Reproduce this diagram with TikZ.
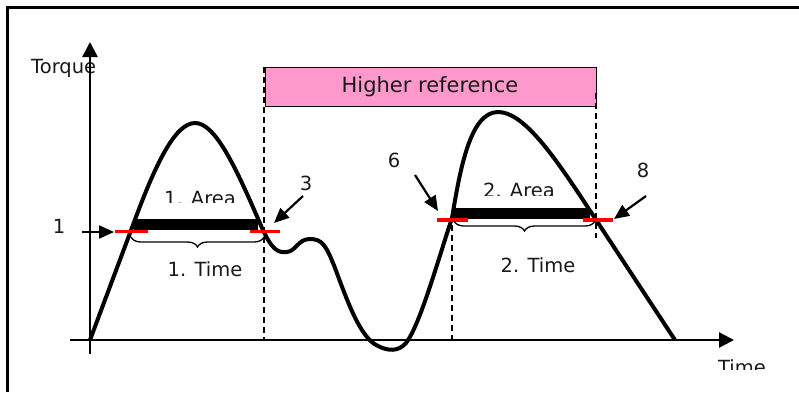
\documentclass[tikz,border=0pt]{standalone}
\usepackage{fontspec}
\setmainfont{DejaVu Sans}
\usetikzlibrary{arrows.meta,decorations.pathreplacing}
\definecolor{boxpink}{HTML}{FF99CC}
\tikzset{
  lbl/.style={inner sep=0pt, font=\fontsize{19.5}{21}\selectfont, text=black!90},
  axisline/.style={line width=2.4pt, -{Triangle[length=15pt,width=15pt]}},
  pointer/.style={line width=2.2pt, -{Triangle[length=15pt,width=13pt]}},
  guide/.style={line width=1.4pt, dash pattern=on 6pt off 4pt},
  redmark/.style={line width=3.5pt, red},
  bar/.style={fill=black, draw=none},
  curve/.style={line width=4pt, line join=round},
  timebrace/.style={line width=1.3pt, decorate, decoration={brace, mirror, amplitude=10pt}},
}
\begin{document}
\begin{tikzpicture}[x=1pt,y=-1pt]
\useasboundingbox (0,0) rectangle (799,392);
% frame
\draw[line width=3pt] (7.5,392) -- (7.5,7.5) -- (799,7.5);
% higher reference box
\node[draw=black, line width=1.3pt, fill=boxpink, minimum width=331pt, minimum height=39pt, inner sep=0pt, anchor=north west] (href) at (264.5,66.5) {};
\node[lbl, font=\fontsize{21}{22}\selectfont, anchor=base] (hreftxt) at (430,92) {Higher reference};
% guide lines
\coordinate (g1t) at (264,67); \coordinate (g1b) at (264,340);
\coordinate (g2t) at (596,93); \coordinate (g2b) at (596,238);
\coordinate (g3t) at (452,215); \coordinate (g3b) at (452,340);
\draw[guide] (g1t) -- (g1b);
\draw[guide] (g2t) -- (g2b);
\draw[guide] (g3t) -- (g3b);
% axes
\node[lbl, anchor=base west] (torque) at (31,73) {Torque};
\coordinate (yb) at (90,354); \coordinate (yt) at (90,42);
\coordinate (xl) at (70,340); \coordinate (xr) at (734,340);
\draw[axisline] (yb) -- (yt);
\draw[axisline] (xl) -- (xr);
\begin{scope}
\clip (700,340) rectangle (799,369.5);
\node[lbl, anchor=base] (timelbl) at (742,374) {Time};
\end{scope}
% bars
\fill[bar] (134,219) rectangle (258,229.5);
\fill[bar] (453,208) rectangle (590,218.5);
% curve
\draw[curve] (90,340) -- (133,225)
  .. controls (155,165) and (175,123) .. (195,123)
  .. controls (215,123) and (235,165) .. (262,228)
  .. controls (272,250) and (278,253) .. (287,252)
  .. controls (296,251) and (298,239) .. (310,239)
  .. controls (322,239) and (326,245) .. (335,268)
  .. controls (347,300) and (360,338) .. (378,346)
  .. controls (388,351) and (398,352) .. (406,343)
  .. controls (420,325) and (438,260) .. (452,218)
  .. controls (460,170) and (470,112) .. (498,112)
  .. controls (522,112) and (550,150) .. (583,200)
  -- (675,340);
% red marks
\draw[redmark] (115,231.5) -- (148,231.5);
\draw[redmark] (250,231.5) -- (280,231.5);
\draw[redmark] (437,220) -- (468,220);
\draw[redmark] (583,220) -- (613,220);
% braces
\coordinate (b1l) at (131,237); \coordinate (b1r) at (264,237);
\coordinate (b2l) at (454,221); \coordinate (b2r) at (595,221);
\draw[timebrace] (b1l) -- (b1r);
\draw[timebrace] (b2l) -- (b2r);
\node[lbl, anchor=base] (t1) at (205,276) {1. Time};
\node[lbl, anchor=base] (t2) at (538,272) {2. Time};
% area labels (partly hidden)
\begin{scope}
\clip (150,170) rectangle (250,202.5);
\node[lbl, anchor=base] (a1) at (200,205.5) {1. Area};
\end{scope}
\begin{scope}
\clip (470,160) rectangle (570,195);
\node[lbl, anchor=base] (a2) at (519,197.5) {2. Area};
\end{scope}
% number labels and pointers
\node[lbl, anchor=base] (n1) at (59,233) {1};
\node[lbl, anchor=base] (n3) at (306,190) {3};
\node[lbl, anchor=base] (n6) at (394,167) {6};
\node[lbl, anchor=base] (n8) at (643,177) {8};
\coordinate (p1s) at (82,232); \coordinate (p1e) at (114,232);
\coordinate (p3s) at (303,196); \coordinate (p3e) at (274,223);
\coordinate (p6s) at (415,175); \coordinate (p6e) at (438,211);
\coordinate (p8s) at (646,196); \coordinate (p8e) at (614,219);
\draw[pointer] (p1s) -- (p1e);
\draw[pointer] (p3s) -- (p3e);
\draw[pointer] (p6s) -- (p6e);
\draw[pointer] (p8s) -- (p8e);
\end{tikzpicture}
\end{document}
